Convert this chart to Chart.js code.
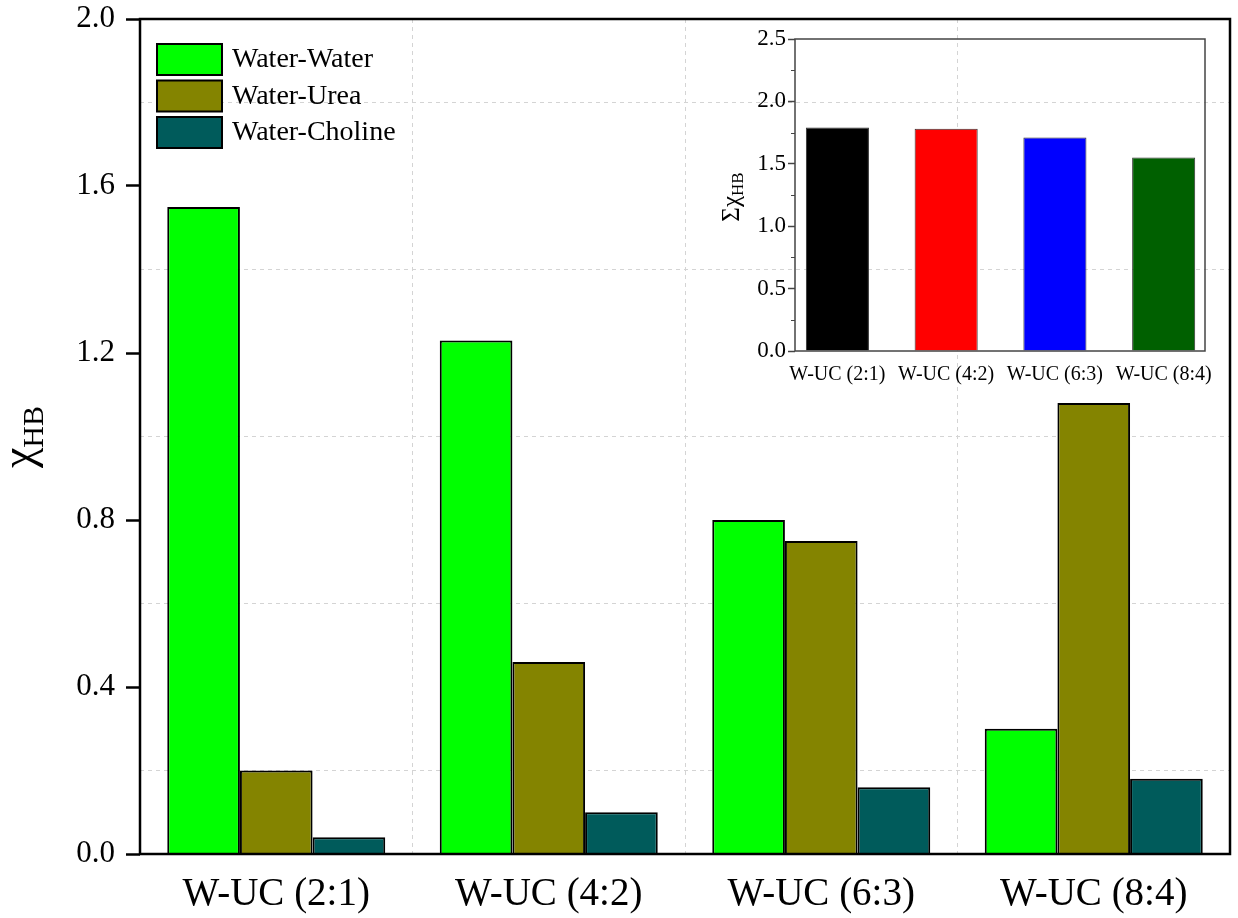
<!DOCTYPE html>
<html>
<head>
<meta charset="utf-8">
<script src="https://cdn.jsdelivr.net/npm/chart.js@4.4.1/dist/chart.umd.min.js"></script>
<style>
html, body { margin: 0; padding: 0; background: #fff; }
#wrap { position: relative; width: 1238px; height: 918px; }
#main { position: absolute; left: 0; top: 0; width: 1238px; height: 918px; }
#inset { position: absolute; left: 700px; top: 20px; width: 520px; height: 370px; }
</style>
</head>
<body>
<div id="wrap">
  <div id="main"><canvas id="mainChart"></canvas></div>
  <div id="inset"><canvas id="insetChart"></canvas></div>
</div>
<script>
// data
const categories = ["W-UC (2:1)", "W-UC (4:2)", "W-UC (6:3)", "W-UC (8:4)"];
const seriesNames = ["Water-Water", "Water-Urea", "Water-Choline"];
const waterWater = [1.55, 1.23, 0.80, 0.30];
const waterUrea = [0.20, 0.46, 0.75, 1.08];
const waterCholine = [0.04, 0.10, 0.16, 0.18];
const seriesColors = ["#00ff00", "#848400", "#005b5b"];
const mainYLabels = ["0.0", "0.4", "0.8", "1.2", "1.6", "2.0"];

// inset: total
const insetTotals = [1.79, 1.78, 1.71, 1.55];
const insetColors = ["#000000", "#ff0000", "#0000ff", "#006000"];
const insetYLabels = ["0.0", "0.5", "1.0", "1.5", "2.0", "2.5"];

const SERIF = "'Liberation Serif', 'Times New Roman', serif";
Chart.defaults.font.family = SERIF;
Chart.defaults.color = "#000";

const framePlugin = {
	id: "frame",
	afterDatasetsDraw(chart, args, opts) {
		const { ctx, chartArea: a } = chart;
		ctx.save();
		ctx.strokeStyle = opts.color;
		ctx.lineWidth = opts.width;
		ctx.strokeRect(a.left, a.top, a.right - a.left, a.bottom - a.top);
		ctx.restore();
	},
};

// rotated axis title with a subscript part
const titlePlugin = {
	id: "subTitle",
	afterDraw(chart, args, opts) {
		const ctx = chart.ctx;
		ctx.save();
		let total = 0;
		opts.parts.forEach((p) => {
			ctx.font = `${p.size}px ${SERIF}`;
			p.w = ctx.measureText(p.text).width;
			total += p.w;
		});
		ctx.translate(opts.x, opts.y);
		ctx.rotate(-Math.PI / 2);
		ctx.fillStyle = "#000";
		ctx.textBaseline = "alphabetic";
		let cx = -total / 2;
		opts.parts.forEach((p) => {
			ctx.font = `${p.size}px ${SERIF}`;
			ctx.fillText(p.text, cx, p.shift);
			cx += p.w;
		});
		ctx.restore();
	},
};

const boxLegend = {
	id: "boxLegend",
	afterDatasetsDraw(chart) {
		const { ctx, chartArea: a } = chart;
		ctx.save();
		chart.data.datasets.forEach((ds, i) => {
			const x = a.left + 17;
			const y = a.top + 25 + i * 36.5;
			ctx.fillStyle = ds.backgroundColor;
			ctx.fillRect(x, y, 65, 31);
			ctx.strokeStyle = "#000";
			ctx.lineWidth = 2;
			ctx.strokeRect(x, y, 65, 31);
			ctx.fillStyle = "#000";
			ctx.font = `28px ${SERIF}`;
			ctx.textBaseline = "middle";
			ctx.fillText(ds.label, x + 75, y + 16);
		});
		ctx.restore();
	},
};

const isMainMajor = (v) => mainYLabels.includes(v.toFixed(1)) && Math.abs(v / 0.4 - Math.round(v / 0.4)) < 1e-6;
const isInsetMajor = (v) => Math.abs(v * 2 - Math.round(v * 2)) < 1e-6;

const minorTicks = {
	id: "minorTicks",
	afterDatasetsDraw(chart) {
		const { ctx, chartArea: a } = chart;
		const y = chart.scales.y;
		ctx.save();
		ctx.strokeStyle = "#444";
		ctx.lineWidth = 1;
		y.ticks.forEach((t, i) => {
			if (isInsetMajor(t.value)) return;
			const py = Math.round(y.getPixelForTick(i)) + 0.5;
			ctx.beginPath();
			ctx.moveTo(a.left - 4, py);
			ctx.lineTo(a.left, py);
			ctx.stroke();
		});
		ctx.restore();
	},
};

new Chart(document.getElementById("mainChart"), {
	type: "bar",
	data: {
		labels: categories,
		datasets: [waterWater, waterUrea, waterCholine].map((d, i) => ({
			label: seriesNames[i],
			data: d,
			backgroundColor: seriesColors[i],
			borderColor: "#000",
			borderWidth: 2,
			categoryPercentage: 0.8,
			barPercentage: 1.0,
		})),
	},
	options: {
		responsive: true,
		maintainAspectRatio: false,
		animation: false,
		layout: { padding: { top: 19, right: 8, left: 0, bottom: 0 } },
		plugins: {
			legend: { display: false },
			tooltip: { enabled: false },
			frame: { color: "#000", width: 2.5 },
			subTitle: {
				x: 33,
				y: 437,
				parts: [
					{ text: "χ", size: 46, shift: 0 },
					{ text: "HB", size: 30, shift: 10 },
				],
			},
		},
		scales: {
			x: {
				grid: { color: "#d4d4d4", lineWidth: 1, drawTicks: false, offset: true },
				border: { display: false, dash: [4, 4] },
				ticks: { font: { size: 39 }, color: "#000", padding: 17, maxRotation: 0, autoSkip: false },
				afterFit: (s) => { s.height = 64; },
			},
			y: {
				min: 0,
				max: 2,
				grid: {
					lineWidth: 1,
					color: (c) => (c.tick && !isMainMajor(c.tick.value) ? "#d4d4d4" : "rgba(0,0,0,0)"),
					tickColor: (c) => (c.tick && isMainMajor(c.tick.value) ? "#000" : "rgba(0,0,0,0)"),
					tickWidth: 2.5,
					tickLength: 14,
				},
				border: { display: false, dash: [4, 4] },
				ticks: {
					stepSize: 0.2,
					font: { size: 31, lineHeight: 0.4 },
					color: "#000",
					padding: 11,
					callback: (v) => (isMainMajor(v) ? v.toFixed(1) : ""),
				},
				afterFit: (s) => { s.width = 140; },
			},
		},
	},
	plugins: [framePlugin, boxLegend, titlePlugin],
});

new Chart(document.getElementById("insetChart"), {
	type: "bar",
	data: {
		datasets: [{
			data: insetTotals.map((v, i) => ({ x: i + 1, y: v })),
			backgroundColor: insetColors,
			borderColor: "#333",
			borderWidth: 1,
			barPercentage: 0.58,
			categoryPercentage: 1,
		}],
	},
	options: {
		responsive: true,
		maintainAspectRatio: false,
		animation: false,
		layout: { padding: { top: 19, right: 15, left: 0, bottom: 0 } },
		plugins: {
			legend: { display: false },
			tooltip: { enabled: false },
			frame: { color: "#444", width: 1.5 },
			subTitle: {
				x: 39,
				y: 177,
				parts: [
					{ text: "Σχ", size: 25, shift: 0 },
					{ text: "HB", size: 17, shift: 4 },
				],
			},
		},
		scales: {
			x: {
				type: "linear",
				offset: false,
				min: 0.61,
				max: 4.38,
				afterBuildTicks: (s) => { s.ticks = categories.map((_, i) => ({ value: i + 1 })); },
				grid: { display: false, offset: false },
				border: { display: false },
				ticks: {
					font: { size: 20 },
					color: "#000",
					padding: 4,
					autoSkip: false,
					maxRotation: 0,
					callback: (v) => categories[v - 1],
				},
				afterFit: (s) => { s.height = 39; },
			},
			y: {
				min: 0,
				max: 2.5,
				grid: {
					drawOnChartArea: false,
					tickLength: 7,
					tickWidth: 1.5,
					tickColor: (c) => (c.tick && isInsetMajor(c.tick.value) ? "#444" : "rgba(0,0,0,0)"),
				},
				border: { display: false },
				ticks: {
					stepSize: 0.25,
					font: { size: 23, lineHeight: 1 },
					color: "#000",
					padding: 2,
					callback: (v) => (isInsetMajor(v) ? insetYLabels[Math.round(v * 2)] : ""),
				},
				afterFit: (s) => { s.width = 95; },
			},
		},
	},
	plugins: [framePlugin, minorTicks, titlePlugin],
});
</script>
</body>
</html>
